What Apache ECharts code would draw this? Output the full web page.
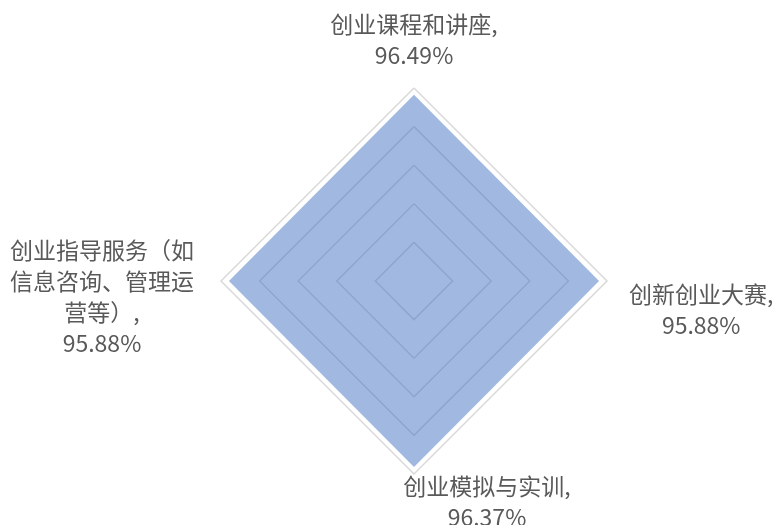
<!DOCTYPE html>
<html lang="zh">

<head>
    <meta charset="UTF-8">
    <title>创业教育满意度</title>
    <script src="https://cdnjs.cloudflare.com/ajax/libs/echarts/6.0.0/echarts.min.js"></script>
    <style>
        html, body { margin: 0; padding: 0; background: #fff; }
    </style>
</head>

<body>
    <div id="mycharts" style="width: 782px;height:525px;"></div>
    <script>
        // order follows echarts radar (top, then counter-clockwise)
        var names = ['创业课程和讲座', '创业指导服务（如信息咨询、管理运营等）', '创业模拟与实训', '创新创业大赛']
        var values = [0.9649, 0.9588, 0.9637, 0.9588]
        var styleKeys = ['t', 'l', 'b', 'r']

        var chart = echarts.init(document.getElementById('mycharts'))

        function wrap(s) {
            var out = []
            for (var i = 0; i < s.length; i += 8) out.push(s.slice(i, i + 8))
            return out
        }

        var options = {
            textStyle: { fontFamily: 'Noto Sans CJK SC' },
            radar: {
                center: [414, 281],
                radius: 193,
                shape: 'polygon',
                splitNumber: 5,
                startAngle: 90,
                axisNameGap: -3,
                indicator: names.map(function (n) { return { name: n, min: 0, max: 1 } }),
                axisLine: { show: false },
                splitArea: { show: false },
                splitLine: { lineStyle: { color: '#d9d9d9', width: 1.5 } },
                axisName: {
                    color: '#595959',
                    fontSize: 23,
                    lineHeight: 31,
                    formatter: function (name) {
                        var i = names.indexOf(name)
                        var k = styleKeys[i]
                        var lines = wrap(name)
                        lines[lines.length - 1] += ','
                        lines.push((values[i] * 100).toFixed(2) + '%')
                        var txt = lines.map(function (l) { return '{' + k + '|' + l + '}' }).join('\n')
                        if (k === 't') txt = txt + '\n{spT| }'
                        if (k === 'r') txt = '{spR| }\n' + txt
                        if (k === 'l') txt = '{spL| }\n' + txt
                        return txt
                    },
                    rich: {
                        t: { align: 'center', fontSize: 23, lineHeight: 31, color: '#595959' },
                        b: { align: 'center', fontSize: 23, lineHeight: 31, color: '#595959', padding: [0, 0, 0, 146] },
                        r: { align: 'center', fontSize: 23, lineHeight: 31, color: '#595959', padding: [0, 0, 0, 25] },
                        l: { align: 'center', fontSize: 23, lineHeight: 31, color: '#595959', padding: [0, 30, 0, 0] },
                        spT: { fontSize: 1, lineHeight: 20, height: 20 },
                        spR: { fontSize: 1, lineHeight: 58, height: 58 },
                        spL: { fontSize: 1, lineHeight: 32, height: 32 }
                    }
                }
            },
            series: [{
                type: 'radar',
                symbol: 'none',
                lineStyle: { width: 0 },
                areaStyle: { color: '#4472c4', opacity: 0.5 },
                data: [{ value: values, name: '满意度' }]
            }]
        }
        chart.setOption(options)
    </script>

</body>

</html>
